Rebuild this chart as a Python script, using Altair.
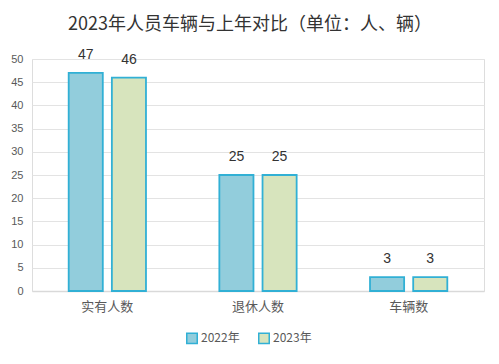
import altair as alt
import pandas as pd

categories = ["实有人数", "退休人数", "车辆数"]
years = ["2022年", "2023年"]
values_2022 = [47, 25, 3]
values_2023 = [46, 25, 3]

rows = []
for c, a, b in zip(categories, values_2022, values_2023):
    rows.append({"cat": c, "year": years[0], "v": a})
    rows.append({"cat": c, "year": years[1], "v": b})
df = pd.DataFrame(rows)

x = alt.X("cat:N", sort=categories, title=None,
          scale=alt.Scale(paddingInner=0.487, paddingOuter=0.2435),
          axis=alt.Axis(labelAngle=0, labelFontSize=13, labelColor="#595959",
                        labelFont="Noto Sans CJK SC", labelPadding=9,
                        ticks=False, domainColor="#d9d9d9", domainWidth=1.5, grid=False))
xo = alt.XOffset("year:N", sort=years, scale=alt.Scale(paddingInner=0.21, paddingOuter=0))
y = alt.Y("v:Q", title=None,
          scale=alt.Scale(domain=[0, 50], nice=False),
          axis=alt.Axis(values=list(range(0, 51, 5)), labelFontSize=11, labelColor="#595959",
                        labelFont="Liberation Sans", labelPadding=9,
                        ticks=False, domain=False, gridColor="#e3e3e3", gridWidth=1))
color = alt.Color("year:N", sort=years,
                  scale=alt.Scale(domain=years, range=["#92CDDC", "#D7E4BD"]),
                  legend=alt.Legend(title=None, orient="none", direction="horizontal",
                                    legendX=154, legendY=273, symbolType="square",
                                    symbolSize=110, symbolStrokeColor="#31B0D5",
                                    symbolStrokeWidth=1.5, labelFontSize=12,
                                    labelColor="#595959", labelFont="Noto Sans CJK SC",
                                    columnPadding=15, labelOffset=3))

base = alt.Chart(df).encode(x=x, xOffset=xo, y=y)
bars = base.mark_bar(stroke="#31B0D5", strokeWidth=1.8).encode(color=color)
labels = base.mark_text(dy=-18, fontSize=14, color="#333333",
                        font="Liberation Sans").encode(text="v:Q")

chart = (bars + labels).properties(
    width=452, height=232,
    padding={"left": 24, "top": 51, "right": 7, "bottom": 65},
    autosize=alt.AutoSizeParams(type="none"),
    title=alt.TitleParams("2023年人员车辆与上年对比（单位：人、辆）", fontSize=18,
                          font="Noto Sans CJK SC", fontWeight="normal", color="#333333",
                          anchor="middle", dx=-8, offset=14),
).configure_view(stroke=None).configure(background="white")

chart.save("out.html", embed_options={"renderer": "svg", "actions": False})
